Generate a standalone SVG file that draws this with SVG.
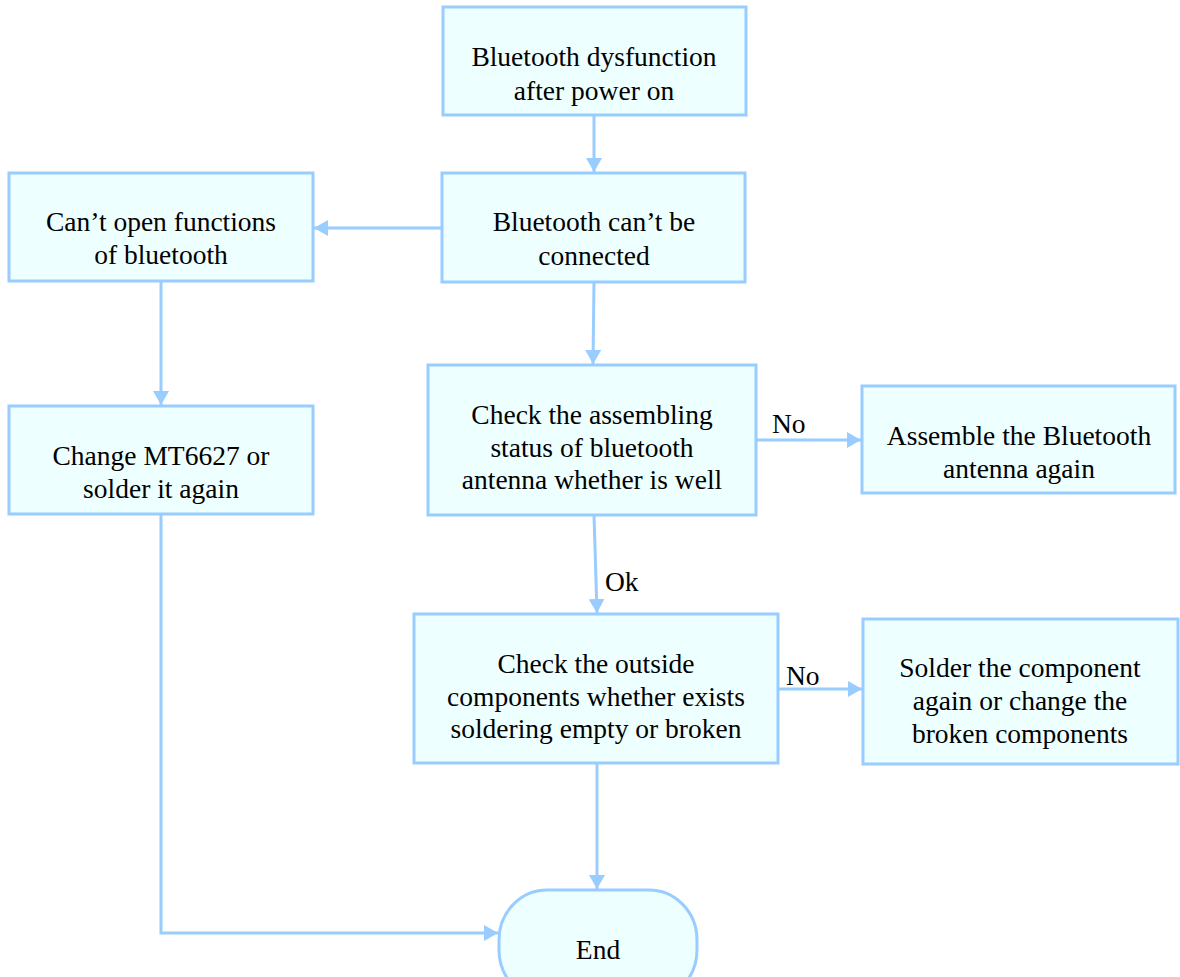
<svg xmlns="http://www.w3.org/2000/svg" width="1180" height="977" viewBox="0 0 1180 977">
  <style>
    .box { fill: #EEFFFF; stroke: #99CCFF; stroke-width: 3; }
    .lbl { font-family: "Liberation Serif", "Times New Roman", serif; font-size: 27.5px; fill: #000; text-anchor: middle; }
    .edge { font-family: "Liberation Serif", "Times New Roman", serif; font-size: 27.5px; fill: #000; }
    .wire { fill: none; stroke: #99CCFF; stroke-width: 3; }
  </style>
  <defs>
    <marker id="arrow" viewBox="0 0 14 16" refX="14" refY="8" markerWidth="14" markerHeight="16" markerUnits="userSpaceOnUse" orient="auto">
      <path d="M0,0 L14,8 L0,16 Z" fill="#99CCFF"/>
    </marker>
  </defs>
  <rect width="1180" height="977" fill="#FFFFFF"/>

  <!-- connectors -->
  <g id="connectors">
    <path class="wire" d="M594,115 L594,172" marker-end="url(#arrow)"/>
    <path class="wire" d="M442,228 L314,228" marker-end="url(#arrow)"/>
    <path class="wire" d="M161,281 L161,405" marker-end="url(#arrow)"/>
    <path class="wire" d="M594,282 L593,364" marker-end="url(#arrow)"/>
    <path class="wire" d="M756,440 L861,440" marker-end="url(#arrow)"/>
    <path class="wire" d="M594,515 L597,613" marker-end="url(#arrow)"/>
    <path class="wire" d="M778,689 L862,689" marker-end="url(#arrow)"/>
    <path class="wire" d="M597,763 L597,889" marker-end="url(#arrow)"/>
    <path class="wire" d="M161,514 L161,933 L498,933" marker-end="url(#arrow)"/>
    <text class="edge" x="772" y="433">No</text>
    <text class="edge" x="605" y="591">Ok</text>
    <text class="edge" x="786" y="685">No</text>
  </g>

  <g id="start">
    <rect class="box" x="443" y="7" width="303" height="108"/>
    <text class="lbl" x="594" y="66">Bluetooth dysfunction</text>
    <text class="lbl" x="594" y="100">after power on</text>
  </g>

  <g id="cant-connect">
    <rect class="box" x="442" y="173" width="303" height="109"/>
    <text class="lbl" x="594" y="231">Bluetooth can’t be</text>
    <text class="lbl" x="594" y="265">connected</text>
  </g>

  <g id="cant-open">
    <rect class="box" x="9" y="173" width="304" height="108"/>
    <text class="lbl" x="161" y="231">Can’t open functions</text>
    <text class="lbl" x="161" y="264">of bluetooth</text>
  </g>

  <g id="change-chip">
    <rect class="box" x="9" y="406" width="304" height="108"/>
    <text class="lbl" x="161" y="465">Change MT6627 or</text>
    <text class="lbl" x="161" y="498">solder it again</text>
  </g>

  <g id="check-antenna">
    <rect class="box" x="428" y="365" width="328" height="150"/>
    <text class="lbl" x="592" y="424">Check the assembling</text>
    <text class="lbl" x="592" y="457">status of bluetooth</text>
    <text class="lbl" x="592" y="489">antenna whether is well</text>
  </g>

  <g id="reassemble">
    <rect class="box" x="862" y="386" width="313" height="107"/>
    <text class="lbl" x="1019" y="445">Assemble the Bluetooth</text>
    <text class="lbl" x="1019" y="478">antenna again</text>
  </g>

  <g id="check-components">
    <rect class="box" x="414" y="614" width="364" height="149"/>
    <text class="lbl" x="596" y="673">Check the outside</text>
    <text class="lbl" x="596" y="706">components whether exists</text>
    <text class="lbl" x="596" y="738">soldering empty or broken</text>
  </g>

  <g id="resolder">
    <rect class="box" x="863" y="619" width="315" height="145"/>
    <text class="lbl" x="1020" y="677">Solder the component</text>
    <text class="lbl" x="1020" y="710">again or change the</text>
    <text class="lbl" x="1020" y="743">broken components</text>
  </g>

  <g id="end">
    <rect class="box" x="499" y="890" width="198" height="110" rx="48" ry="50"/>
    <text class="lbl" x="598" y="959">End</text>
  </g>
</svg>
